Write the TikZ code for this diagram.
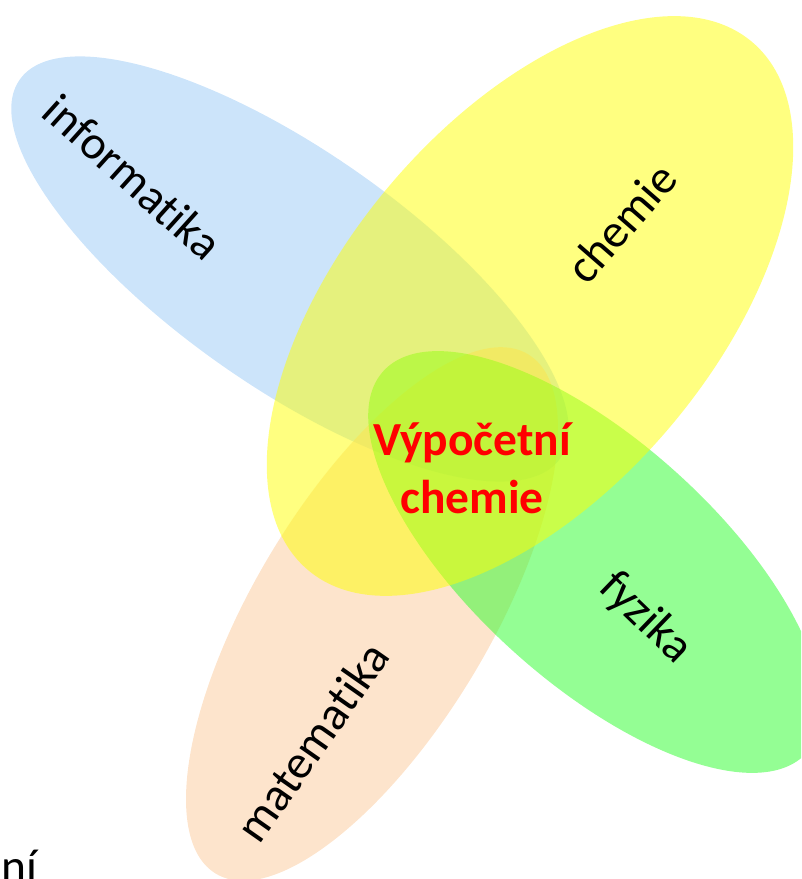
\documentclass[tikz,border=0pt]{standalone}
\usepackage{fontspec}
\setmainfont[Ligatures=NoCommon]{Carlito}
\usepackage{tikz}
\definecolor{infoblue}{RGB}{153,201,245}
\definecolor{chemyellow}{RGB}{255,255,1}
\definecolor{physgreen}{RGB}{41,253,41}
\definecolor{mathorange}{RGB}{251,201,153}

\begin{document}
\begin{tikzpicture}
        \tikzstyle{every node} = [inner sep=0pt, font=\fontsize{27}{33}\selectfont]
        \tikzstyle{blob} = [fill opacity=0.5]
        \useasboundingbox (0,0) rectangle (16.02,17.58);
        \clip (0,0) rectangle (16.02,17.58);
        \foreach \col/\x/\y/\a/\b/\r in {infoblue/5.80/12.20/6.6/2.36/-35, mathorange/7.44/5.30/6.06/2.36/59, physgreen/11.90/6.34/5.7/2.42/-42, chemyellow/10.60/11.46/6.9/3.7/50}
            \fill[blob, \col, rotate around={\r:(\x,\y)}] (\x,\y) ellipse (\a cm and \b cm);
        \node[rotate=-42] (info) at (2.66,14.04) {informatika};
        \node[rotate=49] (chem) at (12.42,13.12) {chemie};
        \node[rotate=-44] (phys) at (12.90,5.22) {fyzika};
        \node[rotate=55] (math) at (6.24,2.74) {matematika};
        \node[text=red, align=center, font=\fontsize{27}{33}\selectfont\bfseries] (comp) at (9.44,8.22) {Výpočetní\\chemie};
        \node[anchor=base west] (cut) at (0.02,-0.06) {ní};
    \end{tikzpicture}
\end{document}
